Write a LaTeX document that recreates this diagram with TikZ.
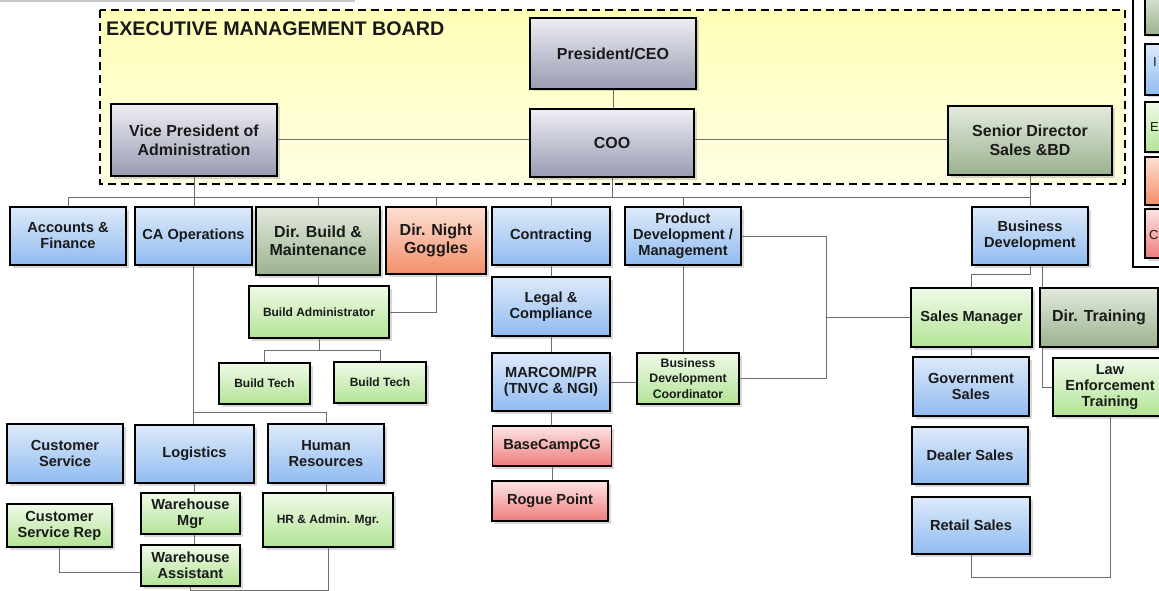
\documentclass[tikz,border=0pt]{standalone}
\usepackage{fontspec}
\setmainfont{Liberation Sans}
\usetikzlibrary{shadows,calc}
\definecolor{exT}{RGB}{238,238,244}
\definecolor{exB}{RGB}{152,155,178}
\definecolor{blT}{RGB}{222,234,250}
\definecolor{blB}{RGB}{144,187,240}
\definecolor{grT}{RGB}{240,250,232}
\definecolor{grB}{RGB}{178,228,150}
\definecolor{dgT}{RGB}{228,234,222}
\definecolor{dgB}{RGB}{154,178,142}
\definecolor{saT}{RGB}{253,224,212}
\definecolor{saB}{RGB}{243,142,104}
\definecolor{rdT}{RGB}{253,228,228}
\definecolor{rdB}{RGB}{238,124,124}
\definecolor{ywT}{RGB}{255,255,184}
\definecolor{ywB}{RGB}{255,254,226}
\definecolor{lineC}{RGB}{110,110,110}
\definecolor{txt}{RGB}{26,26,26}
\tikzset{
  box/.style={draw=black, line width=1.5pt, inner sep=0pt, align=center, text=txt,
    font=\bfseries\fontsize{14.6}{16}\selectfont,
    drop shadow={shadow xshift=2.5pt, shadow yshift=-2.5pt, opacity=0.3}},
  execbox/.style={box, top color=exT, bottom color=exB, font=\bfseries\fontsize{16}{19}\selectfont},
  bluebox/.style={box, top color=blT, bottom color=blB},
  greenbox/.style={box, top color=grT, bottom color=grB},
  dirbox/.style={box, top color=dgT, bottom color=dgB, font=\bfseries\fontsize{16}{18.5}\selectfont},
  salbox/.style={box, top color=saT, bottom color=saB, font=\bfseries\fontsize{16}{18.5}\selectfont},
  redbox/.style={box, top color=rdT, bottom color=rdB},
  smalltext/.style={font=\bfseries\fontsize{12}{14}\selectfont},
  legtext/.style={anchor=west, inner sep=0pt, text=txt, font=\fontsize{13}{15}\selectfont},
  conn/.style={draw=lineC, line width=1pt},
}
\begin{document}
\begin{tikzpicture}[x=1pt,y=-1pt]
\useasboundingbox (0,0) rectangle (1159,591);
\clip (0,0) rectangle (1159,591);
\fill[white] (0,0) rectangle (1159,591);
\draw[line width=2pt, black!22] (0,1) -- (355,1);

% executive board area
\path[top color=ywT, bottom color=ywB] (100,10) rectangle (1125,184);
\draw[line width=2.2pt, dash pattern=on 8pt off 5pt] (100,10) rectangle (1125,184);
\node[anchor=west, inner sep=0pt, text=txt, font=\bfseries\fontsize{19.7}{22}\selectfont] (title) at (106,29) {EXECUTIVE MANAGEMENT BOARD};

% legend (cut off at right edge)
\draw[line width=2.2pt] (1133,-5) rectangle (1210,267);
\node[dirbox, minimum width=60, minimum height=45] (lg1) at (1175,12.5) {};
\node[bluebox, minimum width=60, minimum height=51] (lg2) at (1175,69.5) {};
\node[greenbox, minimum width=60, minimum height=50] (lg3) at (1175,127) {};
\node[salbox, minimum width=60, minimum height=48] (lg4) at (1175,181) {};
\node[redbox, minimum width=60, minimum height=49] (lg5) at (1175,233.5) {};
\node[legtext] (lgt2) at (1153,62) {I};
\node[legtext] (lgt3) at (1150,127) {E};
\node[legtext] (lgt5) at (1149,235) {C};

% coordinates for buses
\coordinate (bus) at (0,197);
\coordinate (btbus) at (0,350);
\coordinate (cabus) at (0,412);
\coordinate (y572) at (0,572);
\coordinate (y590) at (0,590);
\coordinate (y274) at (0,274);
\coordinate (y577) at (0,577);
\coordinate (xr) at (826,0);
\coordinate (xdt) at (1042,0);

% ---------- nodes ----------
\node[execbox, minimum width=166, minimum height=71] (ceo) at (613,53.5) {President/CEO};
\node[execbox, minimum width=164, minimum height=68] (coo) at (612,143) {COO};
\node[execbox, minimum width=166, minimum height=72] (vp) at (194,140) {Vice President of\\Administration};
\node[dirbox, minimum width=164, minimum height=69] (sd) at (1030,140.5) {Senior Director\\Sales \&BD};

\node[bluebox, minimum width=116, minimum height=58] (acc) at (68,236) {Accounts \&\\Finance};
\node[bluebox, minimum width=117, minimum height=58] (ca) at (193.5,236) {CA Operations};
\node[dirbox, minimum width=124, minimum height=68] (db) at (318,241) {Dir. Build \&\\Maintenance};
\node[salbox, minimum width=100, minimum height=67] (ng) at (436,240.5) {Dir. Night\\Goggles};
\node[bluebox, minimum width=118, minimum height=58] (con) at (551,236) {Contracting};
\node[bluebox, minimum width=116, minimum height=58] (pd) at (683,236) {Product\\Development /\\Management};
\node[bluebox, minimum width=116, minimum height=58] (bd) at (1030,236) {Business\\Development};

\node[greenbox, smalltext, minimum width=140, minimum height=52] (ba) at (319,312) {Build Administrator};
\node[greenbox, smalltext, minimum width=91, minimum height=41] (bt1) at (264.5,383.5) {Build Tech};
\node[greenbox, smalltext, minimum width=92, minimum height=41] (bt2) at (380,382.5) {Build Tech};

\node[bluebox, minimum width=118, minimum height=59] (legal) at (551,306.5) {Legal \&\\Compliance};
\node[bluebox, minimum width=118, minimum height=58] (mar) at (551,382) {MARCOM/PR\\(TNVC \& NGI)};
\node[greenbox, font=\bfseries\fontsize{12.3}{15.5}\selectfont, minimum width=102, minimum height=51] (bdc) at (688,378.5) {Business\\Development\\Coordinator};
\node[redbox, minimum width=119, minimum height=40] (bc) at (552,446) {BaseCampCG};
\node[redbox, minimum width=116, minimum height=40] (rp) at (550,501) {Rogue Point};

\node[bluebox, minimum width=116, minimum height=59] (cs) at (65,453.5) {Customer\\Service};
\node[bluebox, minimum width=119, minimum height=58] (log) at (194.5,454) {Logistics};
\node[bluebox, minimum width=116, minimum height=59] (hr) at (326,453.5) {Human\\Resources};
\node[greenbox, minimum width=105, minimum height=43] (csr) at (59.5,525.5) {Customer\\Service Rep};
\node[greenbox, minimum width=99, minimum height=41] (wm) at (190.5,513.5) {Warehouse\\Mgr};
\node[greenbox, minimum width=99, minimum height=41] (wa) at (190.5,565.5) {Warehouse\\Assistant};
\node[greenbox, smalltext, minimum width=130, minimum height=54] (hra) at (328,520) {HR \& Admin. Mgr.};

\node[greenbox, minimum width=121, minimum height=59] (sm) at (971.5,317.5) {Sales Manager};
\node[dirbox, minimum width=118, minimum height=59] (dt) at (1099,317.5) {Dir. Training};
\node[bluebox, minimum width=116, minimum height=59] (gov) at (971,386.5) {Government\\Sales};
\node[greenbox, minimum width=114, minimum height=58] (let) at (1110,387) {Law\\Enforcement\\Training};
\node[bluebox, minimum width=116, minimum height=57] (dealer) at (970,455.5) {Dealer Sales};
\node[bluebox, minimum width=118, minimum height=57] (retail) at (971,525.5) {Retail Sales};

% ---------- connectors ----------
\draw[conn] (ceo.south) -- (ceo.south |- coo.north);
\draw[conn] (vp.east) -- (vp.east -| coo.west);
\draw[conn] (coo.east |- vp.east) -- (vp.east -| sd.west);
\draw[conn] (acc.north) -- (acc.north |- bus) -- (bd.north |- bus) -- (bd.north);
\draw[conn] (sd.south) -- (sd.south |- bus);
\draw[conn] (vp.south) -- (vp.south |- ca.north);
\draw[conn] (coo.south) -- (coo.south |- bus);
\foreach \n in {db,ng,con,pd} { \draw[conn] (\n.north) -- (\n.north |- bus); }

\draw[conn] (db.south) -- (db.south |- ba.north);
\draw[conn] (ng.south) -- (ng.south |- ba.east) -- (ba.east);
\draw[conn] (ba.south) -- (ba.south |- btbus);
\draw[conn] (bt1.north) -- (bt1.north |- btbus) -- (bt2.north |- btbus) -- (bt2.north);

\draw[conn] (ca.south) -- (ca.south |- log.north);
\draw[conn] (ca.south |- cabus) -- (hr.north |- cabus) -- (hr.north);
\draw[conn] (log.south) -- (log.south |- wm.north);
\draw[conn] (log.south |- wm.south) -- (log.south |- wa.north);
\draw[conn] (csr.south) -- (csr.south |- y572) -- (wa.west |- y572);
\draw[conn] (hr.south) -- (hr.south |- hra.north);
\draw[conn] (hra.south) -- (hra.south |- y590) -- (wa.south |- y590) -- (wa.south);

\draw[conn] (con.south) -- (con.south |- legal.north);
\draw[conn] (legal.south) -- (legal.south |- mar.north);
\draw[conn] (mar.south) -- (mar.south |- bc.north);
\draw[conn] (bc.south) -- (bc.south |- rp.north);
\draw[conn] (mar.east) -- (mar.east -| bdc.west);
\draw[conn] (pd.south) -- (pd.south |- bdc.north);
\draw[conn] (pd.east) -- (pd.east -| xr) -- (xr |- bdc.east) -- (bdc.east);
\draw[conn] (xr |- sm.west) -- (sm.west);

\draw[conn] (bd.south) -- (bd.south |- y274) -- (sm.north |- y274) -- (sm.north);
\draw[conn] (xdt |- bd.south) -- (xdt |- dt.north);
\draw[conn] (xdt |- dt.south) -- (xdt |- let.west) -- (let.west);
\draw[conn] (sm.south) -- (sm.south |- gov.north);
\draw[conn] (retail.south) -- (retail.south |- y577) -- (let.south |- y577) -- (let.south);
\end{tikzpicture}
\end{document}
